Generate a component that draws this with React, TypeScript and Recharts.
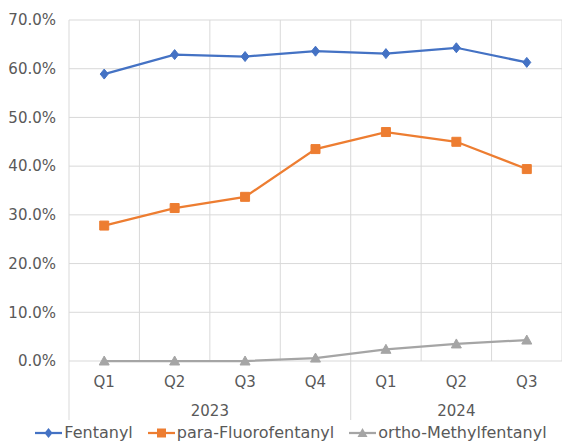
import { LineChart, Line, XAxis, YAxis, CartesianGrid, Legend } from 'recharts';

const quarters = ['Q1', 'Q2', 'Q3', 'Q4', 'Q1', 'Q2', 'Q3'];
const years = ['2023', '2023', '2023', '2023', '2024', '2024', '2024'];
const fentanyl = [58.9, 62.9, 62.5, 63.6, 63.1, 64.3, 61.3];
const paraFluorofentanyl = [27.8, 31.4, 33.7, 43.5, 47.0, 45.0, 39.4];
const orthoMethylfentanyl = [0, 0, 0, 0.6, 2.4, 3.5, 4.3];
const yTicks = [0, 10, 20, 30, 40, 50, 60, 70];

const W = 562;
const H = 441;
const LEFT = 69;
const BAND = (W - LEFT) / quarters.length;
const FONT = '"DejaVu Sans", sans-serif';
const TEXT = '#595959';
const GRID = '#d9d9d9';

const series = [
    { key: 'fentanyl', name: 'Fentanyl', color: '#4472C4', marker: 'diamond' },
    { key: 'para', name: 'para-Fluorofentanyl', color: '#ED7D31', marker: 'square' },
    { key: 'ortho', name: 'ortho-Methylfentanyl', color: '#A5A5A5', marker: 'triangle' },
];

const data = quarters.map((q, i) => ({
    quarter: q,
    year: years[i],
    fentanyl: fentanyl[i],
    para: paraFluorofentanyl[i],
    ortho: orthoMethylfentanyl[i],
}));

function markerPath(marker: string, cx: number, cy: number) {
    if (marker === 'diamond') return `M${cx},${cy - 5}L${cx + 4},${cy}L${cx},${cy + 5}L${cx - 4},${cy}Z`;
    if (marker === 'square') return `M${cx - 4.5},${cy - 4.5}h9v9h-9Z`;
    return `M${cx},${cy - 5}L${cx + 5},${cy + 4}L${cx - 5},${cy + 4}Z`;
}

const makeDot = (marker: string, color: string) => (props: any) => {
    const { cx, cy, index } = props;
    if (cx == null || cy == null) return <g key={index} />;
    return <path key={index} d={markerPath(marker, cx, cy)} fill={color} stroke={color} strokeWidth={1} />;
};

function QuarterTick({ x, y, index, payload }: any) {
    const isGroupStart = index === 0 || years[index] !== years[index - 1];
    let count = 0;
    if (isGroupStart) {
        while (index + count < years.length && years[index + count] === years[index]) count++;
    }
    const left = x - BAND / 2;
    return (
        <g>
            <text x={x} y={y + 26} textAnchor="middle" fill={TEXT} fontSize={15} fontFamily={FONT}>
                {payload.value}
            </text>
            {isGroupStart && (
                <>
                    <line x1={left} y1={y} x2={left} y2={y + 59} stroke={GRID} strokeWidth={1} />
                    <text x={left + (count * BAND) / 2} y={y + 55} textAnchor="middle" fill={TEXT} fontSize={15} fontFamily={FONT}>
                        {years[index]}
                    </text>
                </>
            )}
        </g>
    );
}

function LegendContent() {
    return (
        <div style={{ display: 'flex', justifyContent: 'center', gap: 15, fontFamily: FONT, fontSize: 16, lineHeight: '16px', color: TEXT, paddingLeft: 20 }}>
            {series.map((s) => (
                <div key={s.key} style={{ display: 'flex', alignItems: 'center' }}>
                    <svg width={27} height={14} style={{ marginRight: 2 }}>
                        <line x1={0} y1={7} x2={27} y2={7} stroke={s.color} strokeWidth={2.25} />
                        <path d={markerPath(s.marker, 13.5, 7)} fill={s.color} />
                    </svg>
                    <span>{s.name}</span>
                </div>
            ))}
        </div>
    );
}

export default function App() {
    return (
        <div style={{ position: 'absolute', left: 0, top: 0, background: '#fff' }}>
            <LineChart width={W} height={H} data={data} margin={{ top: 20, right: 0, bottom: 0, left: 0 }}>
                <CartesianGrid
                    stroke={GRID}
                    strokeWidth={1}
                    verticalCoordinatesGenerator={({ offset }: any) =>
                        Array.from({ length: quarters.length + 1 }, (_, i) => offset.left + (i * offset.width) / quarters.length)
                    }
                />
                <XAxis
                    dataKey="quarter"
                    interval={0}
                    height={64}
                    padding={{ left: BAND / 2, right: BAND / 2 }}
                    tick={<QuarterTick />}
                    tickLine={false}
                    axisLine={false}
                    tickSize={0}
                    tickMargin={0}
                />
                <YAxis
                    width={LEFT}
                    domain={[0, 70]}
                    ticks={yTicks}
                    interval={0}
                    tickFormatter={(v: number) => `${v.toFixed(1)}%`}
                    tick={{ fill: TEXT, fontSize: 15, fontFamily: FONT }}
                    tickLine={false}
                    axisLine={false}
                    tickSize={0}
                    tickMargin={13}
                />
                <Legend verticalAlign="bottom" height={16} content={<LegendContent />} />
                {series.map((s) => (
                    <Line
                        key={s.key}
                        type="linear"
                        dataKey={s.key}
                        name={s.name}
                        stroke={s.color}
                        strokeWidth={2.25}
                        dot={makeDot(s.marker, s.color)}
                        activeDot={false}
                        isAnimationActive={false}
                    />
                ))}
            </LineChart>
        </div>
    );
}
